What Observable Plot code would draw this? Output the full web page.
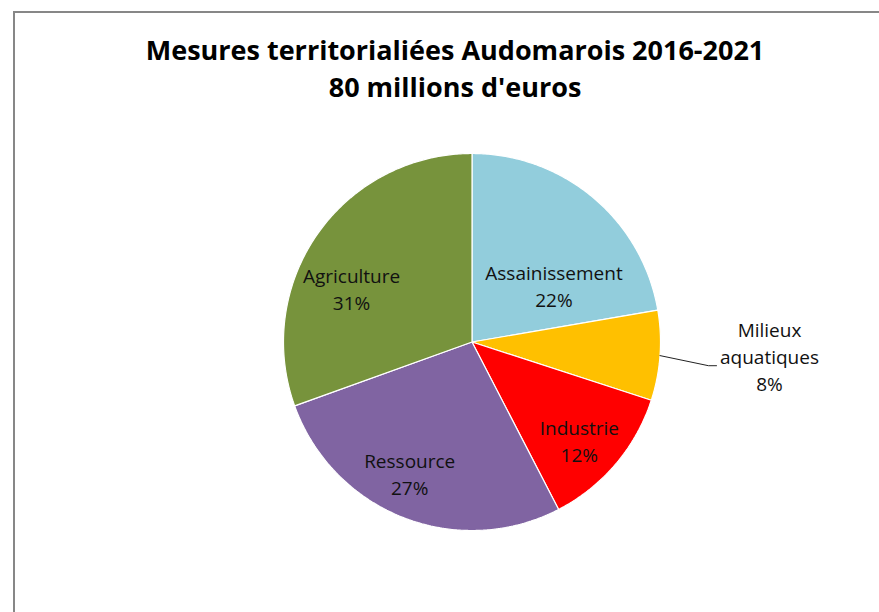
<!DOCTYPE html>
<html><head><meta charset="utf-8">
<script src="https://cdn.jsdelivr.net/npm/d3@7"></script>
<script src="https://cdn.jsdelivr.net/npm/@observablehq/plot@0.6"></script>
<style>
body{margin:0;background:#fff;}
#wrap{position:relative;width:879px;height:612px;overflow:hidden;background:#fff;font-family:"Open Sans",sans-serif;}
#frame{position:absolute;left:13px;top:11px;width:1000px;height:1000px;border:2px solid #878787;box-sizing:border-box;}
#title{position:absolute;left:13px;width:884px;top:31px;text-align:center;font-weight:bold;font-size:27px;line-height:37px;color:#000;}
#chart{position:absolute;left:0;top:0;}
</style></head><body>
<div id="wrap"><div id="frame"></div><div id="chart"></div><div id="title">Mesures territorialiées Audomarois 2016-2021<br>80 millions d'euros</div></div>
<script>
// Data
const categories = ["Assainissement", "Milieux aquatiques", "Industrie", "Ressource", "Agriculture"];
const values = [22.3, 7.7, 12.4, 27.1, 30.5];
const labelNames = ["Assainissement", "Milieux\naquatiques", "Industrie", "Ressource", "Agriculture"];
const colors = ["#92CDDC", "#FFC000", "#FF0000", "#8064A2", "#77933C"];

// Layout (label placement, polar relative to slice mid-angle)
const labelAngleShift = [15, -1.5, 2, 4, -11]; // degrees
const labelRadius = [0.53, 1.58, 0.77, 0.77, 0.70];
const outside = [false, true, false, false, false];

const W = 879, H = 612, cx = 471.5, cy = 341.5, R = 188.5;

const arcs = d3.pie().sort(null).startAngle(0).endAngle(2 * Math.PI)(values);

const polys = [];
arcs.forEach((a, i) => {
  const cat = categories[i];
  polys.push({cat, x: 0, y: 0});
  const n = Math.max(2, Math.ceil((a.endAngle - a.startAngle) / 0.01));
  for (let k = 0; k <= n; k++) {
    const t = a.startAngle + (a.endAngle - a.startAngle) * k / n;
    polys.push({cat, x: Math.sin(t), y: Math.cos(t)});
  }
});

const labels = arcs.map((a, i) => {
  const mid = (a.startAngle + a.endAngle) / 2 + labelAngleShift[i] * Math.PI / 180;
  return {
    cat: categories[i],
    text: `${labelNames[i]}\n${Math.round(values[i])}%`,
    x: labelRadius[i] * Math.sin(mid),
    y: labelRadius[i] * Math.cos(mid),
    mid: (a.startAngle + a.endAngle) / 2,
    outside: outside[i]
  };
});

const leader = [];
labels.filter(d => d.outside).forEach(d => {
  const ex = d.x - 53 / R, ey = d.y - 10 / R;
  leader.push({cat: d.cat, x: Math.sin(d.mid), y: Math.cos(d.mid)});
  leader.push({cat: d.cat, x: ex - 8 / R, y: ey});
  leader.push({cat: d.cat, x: ex, y: ey});
});

const chart = Plot.plot({
  width: W, height: H,
  margin: 0,
  x: {domain: [-cx / R, (W - cx) / R], axis: null},
  y: {domain: [-(H - cy) / R, cy / R], axis: null},
  color: {domain: categories, range: colors},
  style: {background: "transparent", fontFamily: "Open Sans, sans-serif"},
  marks: [
    Plot.line(polys, {x: "x", y: "y", z: "cat", fill: "cat", stroke: "white", strokeWidth: 1.2, strokeLinejoin: "miter", curve: "linear-closed"}),
    Plot.line(leader, {x: "x", y: "y", z: "cat", stroke: "#222", strokeWidth: 1}),
    Plot.text(labels, {x: "x", y: "y", text: "text", fontSize: 19, lineHeight: 1.42, fill: "#111", lineAnchor: "middle"})
  ]
});
document.getElementById("chart").appendChild(chart);
</script>
</body></html>
